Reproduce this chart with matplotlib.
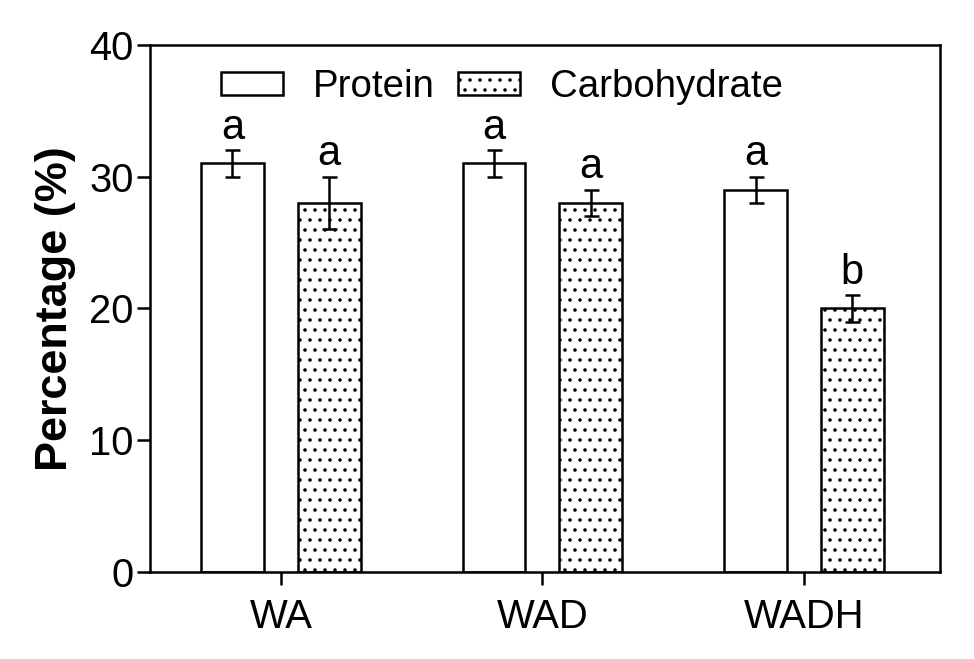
import matplotlib.pyplot as plt
import numpy as np

plt.rcParams['font.family'] = ['Liberation Sans', 'DejaVu Sans']
plt.rcParams['hatch.linewidth'] = 0.9

# data
groups = ['WA', 'WAD', 'WADH']
protein = [31, 31, 29]
protein_err = [1, 1, 1]
carb = [28, 28, 20]
carb_err = [2, 1, 1]
protein_letters = ['a', 'a', 'a']
carb_letters = ['a', 'a', 'b']

# dpi 120 so that the '..' hatch spacing is about 10 px
fig = plt.figure(figsize=(974 / 120, 659 / 120), dpi=120)
ax = fig.add_axes([0.154, 0.132, 0.811, 0.8])

x = np.arange(len(groups))
w = 0.24
off = 0.185
lw = 1.5

ax.bar(x - off, protein, w, color='white', edgecolor='black', linewidth=lw,
       label='Protein', zorder=2)
ax.bar(x + off, carb, w, color='white', edgecolor='black', linewidth=lw,
       hatch='..', label='Carbohydrate', zorder=2)
ax.errorbar(x - off, protein, yerr=protein_err, fmt='none', ecolor='black',
            elinewidth=lw, capsize=4.5, capthick=lw, zorder=3)
ax.errorbar(x + off, carb, yerr=carb_err, fmt='none', ecolor='black',
            elinewidth=lw, capsize=4.5, capthick=lw, zorder=3)

for i in range(len(groups)):
    ax.text(x[i] - off, protein[i] + protein_err[i] + 0.2, protein_letters[i],
            ha='center', va='bottom', fontsize=25)
    ax.text(x[i] + off, carb[i] + carb_err[i] + 0.2, carb_letters[i],
            ha='center', va='bottom', fontsize=25)

ax.set_xlim(-0.5, 2.52)
ax.set_ylim(0, 40)
ax.set_yticks([0, 10, 20, 30, 40])
ax.set_xticks(x)
ax.set_xticklabels(groups)
ax.tick_params(axis='both', labelsize=24, width=lw, length=7.8,
               direction='out', pad=2)
ax.tick_params(axis='x', labelsize=24, pad=8)
for s in ax.spines.values():
    s.set_linewidth(lw)

ax.set_ylabel('Percentage (%)', fontsize=27, fontweight='bold', labelpad=8)

ax.legend(loc='upper center', ncol=2, frameon=False, fontsize=23,
          handlelength=1.6, handleheight=0.55, columnspacing=0.6,
          handletextpad=0.8, bbox_to_anchor=(0.446, 1.02))

plt.savefig('out.png', dpi=120)
